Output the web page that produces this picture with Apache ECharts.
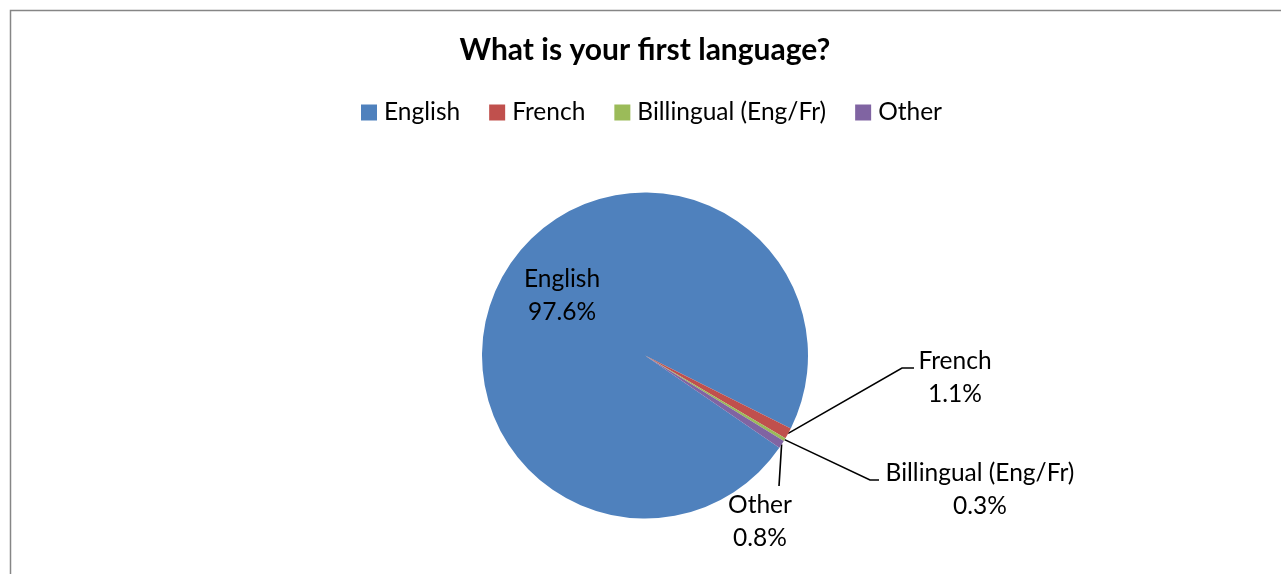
<!DOCTYPE html>
<html>
<head>
<meta charset="utf-8">
<script src="https://cdn.jsdelivr.net/npm/echarts@6/dist/echarts.min.js"></script>
<style>
html,body{margin:0;padding:0;background:#fff;}
#chart{width:1281px;height:574px;}
</style>
</head>
<body>
<div id="chart"></div>
<script>
const titleText = 'What is your first language?';
const categories = ['English', 'French', 'Billingual (Eng/Fr)', 'Other'];
const values = [97.6, 1.1, 0.3, 0.8];
const colors = ['#4F81BD', '#C0504D', '#9BBB59', '#8064A2'];

const FONT = 'Lato';
const CX = 645, CY = 355.5, R = 163;

// label placement offsets relative to the pie centre (layout only)
const labelPlace = [
  { dx: -83, dy: -60 },
  { dx: 310, dy: 22, line: [[257, 12.5], [269, 12.5]] },
  { dx: 335, dy: 134.5, line: [[225, 124.5], [234, 124.5]] },
  { dx: 115, dy: 166, line: [[134, 130.5], [134, 130.5]] }
];

const chart = echarts.init(document.getElementById('chart'), null, { renderer: 'canvas' });

const option = {
  backgroundColor: '#fff',
  animation: false,
  graphic: [{
    type: 'rect',
    left: 8, top: 8,
    shape: { x: 0, y: 0, width: 1400, height: 700 },
    style: { fill: 'none', stroke: '#868686', lineWidth: 1.5 },
    silent: true
  }],
  title: {
    text: titleText,
    left: 640, top: 30,
    textAlign: 'center',
    textStyle: { fontFamily: FONT, fontSize: 30, fontWeight: 'bold', color: '#000' }
  },
  legend: {
    data: categories,
    left: 361, top: 100,
    padding: 0,
    icon: 'rect',
    itemWidth: 16, itemHeight: 16,
    itemGap: 29,
    textStyle: { fontFamily: FONT, fontSize: 24.5, color: '#000', padding: [0, 0, 0, 2] }
  },
  series: [{
    type: 'pie',
    center: [CX, CY],
    radius: R,
    startAngle: -34.5,
    clockwise: true,
    avoidLabelOverlap: false,
    itemStyle: { borderWidth: 0 },
    emphasis: { disabled: true },
    data: categories.map((c, i) => ({
      name: c,
      value: values[i],
      itemStyle: { color: colors[i] },
      label: { position: i === 0 ? 'inside' : 'outside' },
      labelLine: { show: i !== 0 }
    })),
    label: {
      show: true,
      formatter: p => p.name + '\n' + p.value.toFixed(1) + '%',
      fontFamily: FONT, fontSize: 24.5, color: '#000',
      lineHeight: 33, align: 'center'
    },
    labelLine: {
      show: true, length: 20, length2: 10,
      lineStyle: { color: '#000', width: 1.6 }
    },
    labelLayout: function (params) {
      const pl = labelPlace[params.dataIndex];
      const out = {
        x: CX + pl.dx, y: CY + pl.dy,
        align: 'center', verticalAlign: 'middle',
        hideOverlap: false
      };
      if (pl.line && params.labelLinePoints) {
        const p0 = params.labelLinePoints[0];
        out.labelLinePoints = [p0].concat(pl.line.map(q => [CX + q[0], CY + q[1]]));
      }
      return out;
    }
  }]
};
chart.setOption(option);
</script>
</body>
</html>
